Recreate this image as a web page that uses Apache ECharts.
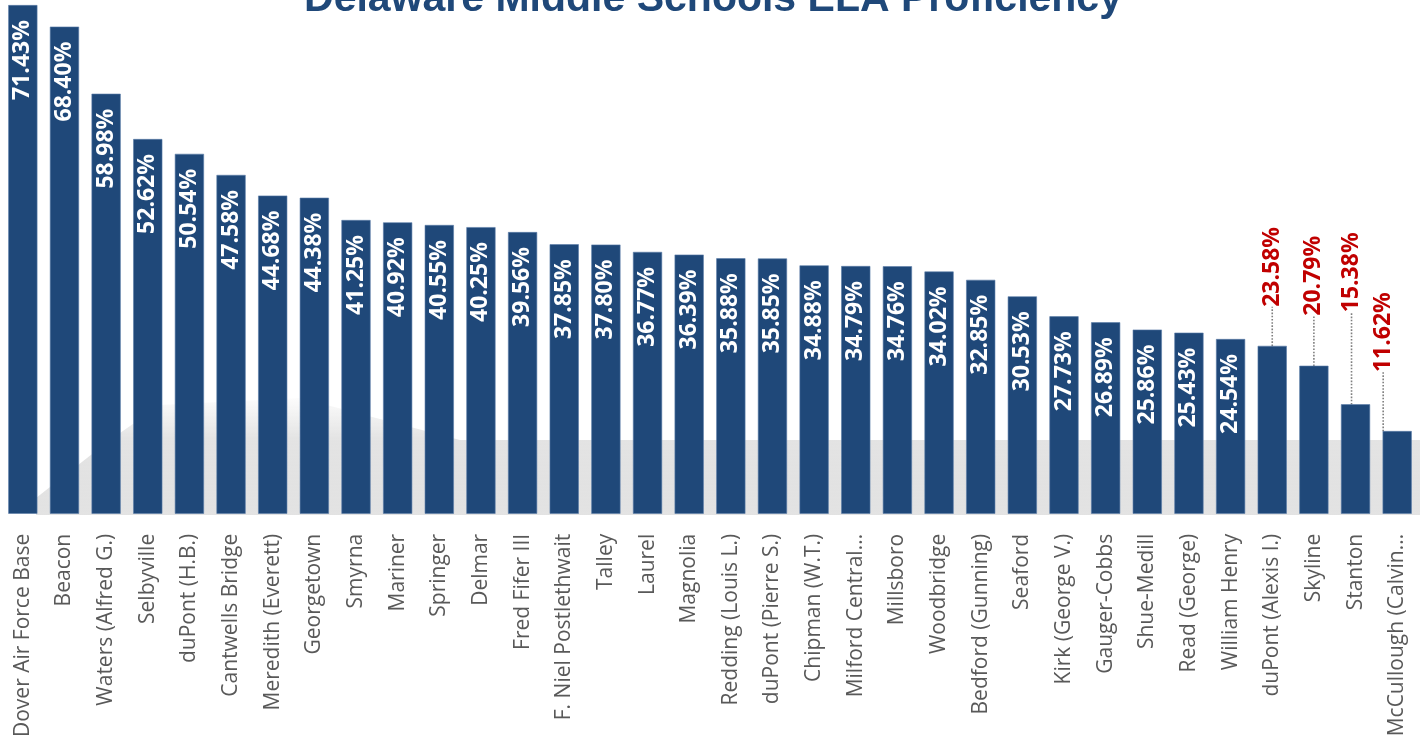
<!DOCTYPE html>
<html>
<head>
<meta charset="utf-8">
<script src="https://cdn.jsdelivr.net/npm/echarts@6/dist/echarts.min.js"></script>
<style>html,body{margin:0;padding:0;background:#fff;}#c{width:1426px;height:740px;}</style>
</head>
<body>
<div id="c"></div>
<script>
var titleText = 'Delaware Middle Schools ELA Proficiency';
var schools = ['Dover Air Force Base','Beacon','Waters (Alfred G.)','Selbyville','duPont (H.B.)','Cantwells Bridge','Meredith (Everett)','Georgetown','Smyrna','Mariner','Springer','Delmar','Fred Fifer III','F. Niel Postlethwait','Talley','Laurel','Magnolia','Redding (Louis L.)','duPont (Pierre S.)','Chipman (W.T.)','Milford Central...','Millsboro','Woodbridge','Bedford (Gunning)','Seaford','Kirk (George V.)','Gauger-Cobbs','Shue-Medill','Read (George)','William Henry','duPont (Alexis I.)','Skyline','Stanton','McCullough (Calvin...'];
var proficiency = [71.43,68.40,58.98,52.62,50.54,47.58,44.68,44.38,41.25,40.92,40.55,40.25,39.56,37.85,37.80,36.77,36.39,35.88,35.85,34.88,34.79,34.76,34.02,32.85,30.53,27.73,26.89,25.86,25.43,24.54,23.58,20.79,15.38,11.62];
var highlighted = [30,31,32,33];

// callout offsets in pixels: [up, sideways]
var calloutShift = {30:[39,0],31:[50,0],32:[92,-4],33:[59,-14]};

var chart = echarts.init(document.getElementById('c'));
var data = proficiency.map(function(v,i){
  var item = {value:v};
  if (highlighted.indexOf(i) >= 0) {
    item.label = {position:'top', distance:0, rotate:90, align:'left', verticalAlign:'middle', color:'#C00000'};
    item.labelLine = {show:true, lineStyle:{type:'dotted', color:'#7f7f7f', width:1.6}};
  }
  return item;
});

chart.setOption({
  animation:false,
  title:{text:titleText, left:'center', top:-26, textStyle:{fontFamily:'Liberation Sans', fontWeight:'bold', fontSize:41, color:'#1F4879'}},
  grid:{left:2, right:8, top:1, bottom:225, containLabel:false},
  graphic:[{
    type:'polygon', z:-1, silent:true,
    shape:{points:[[36,515],[36,498],[110,440],[160,405],[300,398],[460,440],[1420,440],[1420,515]]},
    style:{fill:new echarts.graphic.LinearGradient(0,0,0,1,[{offset:0,color:'rgba(200,200,200,0.05)'},{offset:0.35,color:'rgba(200,200,200,0.5)'},{offset:1,color:'rgba(215,215,215,0.7)'}])}
  }],
  xAxis:{type:'category', data:schools,
    axisLine:{show:false}, axisTick:{show:false},
    axisLabel:{rotate:90, interval:0, margin:20, fontFamily:'Open Sans', fontSize:21, color:'#595959'}},
  yAxis:{type:'value', min:0, max:72, show:false, splitLine:{show:false}},
  series:[{
    type:'bar', data:data, barCategoryGap:'30%',
    itemStyle:{color:'#1F4879', borderColor:'#5B7CA8', borderWidth:0.6},
    label:{show:true, position:'insideTop', distance:15, rotate:90, align:'right', verticalAlign:'middle',
      fontFamily:'Open Sans', fontWeight:'bold', fontSize:23, color:'#ffffff',
      formatter:function(p){return p.value.toFixed(2)+'%';}},
    labelLayout:function(p){
      var s = calloutShift[p.dataIndex];
      if (s) return {dx:s[0], dy:s[1]};
      return {};
    }
  }]
});
</script>
</body>
</html>
